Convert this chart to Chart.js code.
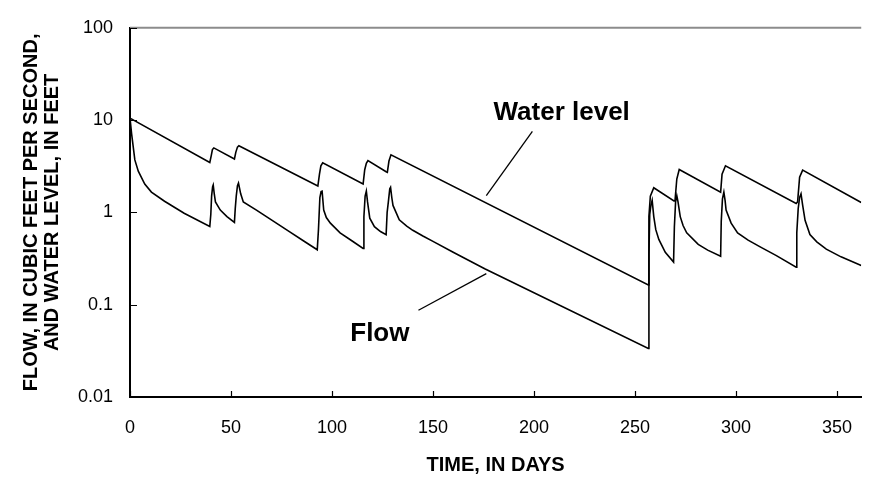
<!DOCTYPE html>
<html>
<head>
<meta charset="utf-8">
<title>Flow and water level</title>
<script src="https://cdn.jsdelivr.net/npm/chart.js@4.4.0/dist/chart.umd.min.js"></script>
<style>
  html, body { margin: 0; padding: 0; background: #fff; }
  #chart { display: block; }
</style>
</head>
<body>
<canvas id="chart" width="872" height="477"></canvas>
<script>
const levelDays = [0, 39.5, 40.2, 40.8, 41.5, 51.7, 52.4, 53.2, 53.9, 93.0, 93.8, 94.5, 95.4,
  115.4, 116.2, 117.0, 117.8, 126.8, 127.4, 128.2, 129.2, 256.6, 256.9, 257.6, 259.3,
  269.3, 269.8, 270.7, 271.9, 292.4, 293.1, 294.8, 329.8, 330.5, 331.5, 333.0, 362];
const levelValues = [10.5, 3.47, 4.1, 4.8, 5.0, 3.79, 4.5, 5.1, 5.28, 1.93, 2.6, 3.2, 3.44,
  2.03, 2.9, 3.4, 3.64, 2.76, 2.72, 3.6, 4.21, 0.164, 0.9, 1.5, 1.85,
  1.33, 1.33, 2.3, 2.92, 1.66, 2.6, 3.2, 1.25, 1.3, 2.4, 2.87, 1.28];

const flowDays = [0, 0.8, 2.4, 4.1, 7.3, 10.6, 17.1, 26.8, 39.5,
  40.0, 40.4, 40.9, 41.2, 41.7, 42.3, 44.7, 48, 51.7,
  52.1, 52.6, 53.2, 53.7, 54.8, 56.1, 62.6, 70, 78.9, 86, 92.7,
  93.3, 94.0, 94.6, 95.1, 95.9, 97.2, 99.2, 104, 110, 115.4,
  115.8, 116.4, 117.0, 117.6, 118.7, 121, 124, 126.8,
  127.3, 127.9, 128.6, 129.0, 129.6, 130.2, 131.7, 133.3, 137, 140, 145, 150, 160, 175.6, 256.6,
  256.9, 257.3, 257.9, 258.5, 259.3, 260.3, 261.8, 265, 269.1,
  269.5, 270.1, 270.7, 271.3, 272.4, 273.8, 275.6, 281.3, 286, 292.4,
  292.7, 293.3, 294.0, 294.6, 295.1, 297.6, 300.8, 306, 312.2, 320, 329.8,
  330.1, 330.8, 331.5, 332.2, 333, 334.2, 336.6, 340, 344.7, 352, 362];
const flowValues = [10.5, 7.1, 3.7, 2.8, 2.03, 1.66, 1.32, 0.98, 0.705,
  0.95, 1.5, 1.9, 1.98, 1.6, 1.3, 1.06, 0.9, 0.78,
  1.1, 1.5, 1.95, 2.08, 1.59, 1.3, 1.06, 0.83, 0.62, 0.49, 0.394,
  0.65, 1.45, 1.68, 1.7, 1.06, 0.88, 0.765, 0.6, 0.49, 0.406,
  0.9, 1.5, 1.7, 1.3, 0.865, 0.7, 0.62, 0.575,
  1.0, 1.3, 1.8, 1.87, 1.45, 1.19, 1.0, 0.83, 0.71, 0.64, 0.555, 0.485, 0.37, 0.245, 0.0336,
  0.35, 0.95, 1.2, 1.35, 0.9, 0.65, 0.51, 0.37, 0.29,
  0.7, 1.3, 1.52, 1.3, 0.9, 0.72, 0.6, 0.45, 0.39, 0.335,
  0.8, 1.4, 1.66, 1.35, 1.06, 0.765, 0.6, 0.5, 0.42, 0.34, 0.255,
  0.6, 1.1, 1.45, 1.59, 1.2, 0.82, 0.575, 0.48, 0.40, 0.33, 0.266];

const dayTicks = [0, 50, 100, 150, 200, 250, 300, 350];
const valueTicks = [0.01, 0.1, 1, 10, 100];

const FONT = "'Liberation Sans', Arial, Helvetica, sans-serif";

const toPoints = (days, values) => days.map((d, i) => ({ x: d, y: values[i] }));

// curve labels with leader lines, in data units (day, value)
const callouts = [
  { text: "Water level", x: 213.7, y: 10.1, from: [199.2, 7.55], to: [176.4, 1.52] },
  { text: "Flow", x: 123.7, y: 0.040, from: [142.8, 0.087], to: [176.4, 0.217] },
];

const frame = {
  id: "frame",
  afterDraw(chart) {
    const { ctx, chartArea: a, scales: { x, y } } = chart;
    ctx.save();

    // light top edge of the plot box
    ctx.strokeStyle = "#8c8c8c";
    ctx.lineWidth = 2;
    ctx.beginPath();
    ctx.moveTo(a.left, a.top);
    ctx.lineTo(a.right, a.top);
    ctx.stroke();

    // tick marks point into the plot
    ctx.strokeStyle = "#000";
    ctx.lineWidth = 1.2;
    ctx.beginPath();
    dayTicks.forEach((d) => {
      const px = Math.round(x.getPixelForValue(d)) + 0.5;
      ctx.moveTo(px, a.bottom);
      ctx.lineTo(px, a.bottom - 6);
    });
    valueTicks.forEach((v) => {
      const py = Math.round(y.getPixelForValue(v)) + 0.5;
      ctx.moveTo(a.left, py);
      ctx.lineTo(a.left + 7, py);
    });
    ctx.stroke();

    ctx.lineWidth = 1.3;
    ctx.fillStyle = "#000";
    ctx.font = "bold 26px " + FONT;
    ctx.textAlign = "center";
    ctx.textBaseline = "alphabetic";
    callouts.forEach((c) => {
      ctx.beginPath();
      ctx.moveTo(x.getPixelForValue(c.from[0]), y.getPixelForValue(c.from[1]));
      ctx.lineTo(x.getPixelForValue(c.to[0]), y.getPixelForValue(c.to[1]));
      ctx.stroke();
      ctx.fillText(c.text, x.getPixelForValue(c.x), y.getPixelForValue(c.y));
    });
    ctx.restore();
  },
};

new Chart(document.getElementById("chart"), {
  type: "line",
  data: {
    datasets: [
      { label: "Water level", data: toPoints(levelDays, levelValues) },
      { label: "Flow", data: toPoints(flowDays, flowValues) },
    ],
  },
  options: {
    responsive: false,
    animation: false,
    devicePixelRatio: 1,
    layout: { padding: { top: 19, right: 0, bottom: 0, left: 0 } },
    elements: {
      line: { borderColor: "#000", borderWidth: 1.6, tension: 0, fill: false },
      point: { radius: 0 },
    },
    plugins: { legend: { display: false }, tooltip: { enabled: false } },
    scales: {
      x: {
        type: "linear",
        min: 0,
        max: 362,
        afterBuildTicks: (s) => { s.ticks = dayTicks.map((v) => ({ value: v })); },
        afterFit: (s) => { s.height = 80; },
        grid: { display: false, drawTicks: false },
        border: { display: true, color: "#000", width: 2 },
        ticks: { padding: 20, color: "#000", font: { family: FONT, size: 18 } },
        title: {
          display: true,
          text: "TIME, IN DAYS",
          color: "#000",
          font: { family: FONT, size: 20, weight: "bold", lineHeight: 1.2 },
          padding: { top: 0, bottom: 0 },
        },
      },
      y: {
        type: "logarithmic",
        min: 0.01,
        max: 100,
        afterBuildTicks: (s) => { s.ticks = valueTicks.map((v) => ({ value: v })); },
        afterFit: (s) => { s.width = 130; },
        grid: { display: false, drawTicks: false },
        border: { display: true, color: "#000", width: 2 },
        ticks: {
          padding: 17,
          color: "#000",
          font: { family: FONT, size: 18 },
          callback: (v) => String(v),
        },
        title: {
          display: true,
          text: ["FLOW, IN CUBIC FEET PER SECOND,", "AND WATER LEVEL, IN FEET"],
          color: "#000",
          font: { family: FONT, size: 20, weight: "bold", lineHeight: 1.05 },
          padding: { top: 21, bottom: 0 },
        },
      },
    },
  },
  plugins: [frame],
});
</script>
</body>
</html>
